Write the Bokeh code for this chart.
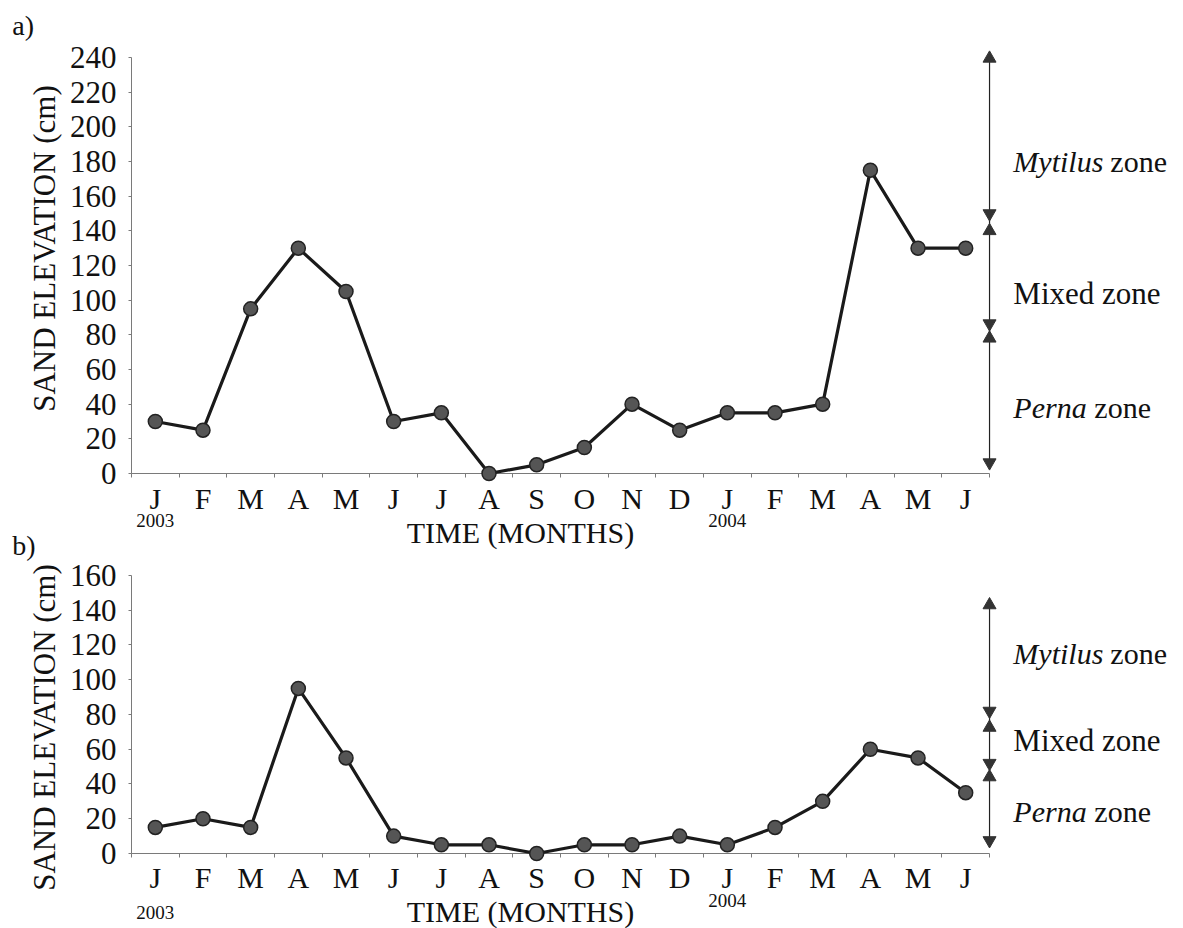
import math
from bokeh.plotting import figure
from bokeh.models import Range1d, FixedTicker, Label, LinearAxis
from bokeh.core.properties import value
from bokeh.embed import file_html
from bokeh.resources import INLINE

# ---------------- data ----------------
months = ["J", "F", "M", "A", "M", "J", "J", "A", "S", "O", "N", "D",
          "J", "F", "M", "A", "M", "J"]
month_idx = list(range(len(months)))
years = ["2003", "2004"]
year_idx = [0, 12]

elev_a = [30, 25, 95, 130, 105, 30, 35, 0, 5, 15, 40, 25, 35, 35, 40, 175, 130, 130]
elev_b = [15, 20, 15, 95, 55, 10, 5, 5, 0, 5, 5, 10, 5, 15, 30, 60, 55, 35]

# zone arrows: up-pointing heads and down-pointing heads (cm)
zone_up_a = [239.5, 140, 78]
zone_down_a = [150, 86.5, 6.3]
zone_up_b = [143, 72.5, 44]
zone_down_b = [82, 52, 7.5]

zone_names = ["Mytilus", "Mixed zone", "Perna"]
zone_y_a = [180, 104, 38]
zone_y_b = [115, 65, 24]

yticks_a = list(range(0, 241, 20))
yticks_b = list(range(0, 161, 20))

FONT = "Liberation Serif"
INK = "#111111"
AXIS = "#7a7a7a"

# one canvas holding both panels; panel b uses its own y range
p = figure(width=1183, height=928, output_backend="svg", toolbar_location=None,
           x_range=Range1d(-3.248, 21.569), y_range=Range1d(-262.5, 272.9),
           min_border=0)
p.extra_y_ranges = {"b": Range1d(-43.17, 490.9)}
p.outline_line_color = None
p.grid.visible = False
p.background_fill_color = "white"
p.border_fill_color = "white"

xa_a = p.xaxis[0]
ya_a = p.yaxis[0]
xa_b = LinearAxis(y_range_name="b")
ya_b = LinearAxis(y_range_name="b")
p.add_layout(xa_b, "below")
p.add_layout(ya_b, "left")

for xa in (xa_a, xa_b):
    xa.fixed_location = 0
    xa.level = "underlay"
    xa.ticker = FixedTicker(ticks=month_idx,
                            minor_ticks=[i - 0.5 for i in range(len(months) + 1)])
    xa.major_label_overrides = {i: m for i, m in zip(month_idx, months)}
    xa.bounds = (-0.5, len(months) - 0.5)
    xa.major_tick_in = 0
    xa.major_tick_out = 0
    xa.minor_tick_in = 0
    xa.minor_tick_out = 4
    xa.axis_line_color = AXIS
    xa.minor_tick_line_color = AXIS
    xa.major_label_text_font = FONT
    xa.major_label_text_font_size = "30px"
    xa.major_label_text_color = INK
    xa.major_label_standoff = 4

for ya, ticks in ((ya_a, yticks_a), (ya_b, yticks_b)):
    ya.fixed_location = -0.5
    ya.level = "underlay"
    ya.ticker = FixedTicker(ticks=ticks, minor_ticks=[])
    ya.bounds = (0, ticks[-1])
    ya.major_tick_in = 0
    ya.major_tick_out = 3
    ya.axis_line_color = AXIS
    ya.major_tick_line_color = AXIS
    ya.major_label_text_font = FONT
    ya.major_label_text_font_size = "31px"
    ya.major_label_text_color = INK
    ya.major_label_standoff = 12


def draw_panel(elev, up, down, zone_y, rng, tag, tag_y, year_y, time_y, ylab_y):
    kw = {} if rng is None else {"y_range_name": rng}
    p.line(month_idx, elev, line_width=3.2, line_color="#1a1a1a", **kw)
    p.scatter(month_idx, elev, size=14, fill_color="#555555",
              line_color="#222222", line_width=1.5, **kw)

    xe = len(months) - 0.5
    p.segment(x0=[xe], y0=[min(down)], x1=[xe], y1=[max(up)],
              line_color="#222222", line_width=1.2, **kw)
    p.scatter([xe] * len(up), up, marker="triangle", size=13,
              fill_color="#333333", line_color="#333333", **kw)
    p.scatter([xe] * len(down), down, marker="inverted_triangle", size=13,
              fill_color="#333333", line_color="#333333", **kw)

    xt = 18.0
    p.text(x=[xt, xt], y=[zone_y[0], zone_y[2]], text=[zone_names[0], zone_names[2]],
           text_font=value(FONT), text_font_style="italic",
           text_font_size="30px", text_baseline="middle", text_align="left",
           text_color=INK, **kw)
    p.text(x=[xt, xt], y=[zone_y[0], zone_y[2]], text=["zone", "zone"],
           x_offset=[97, 81],
           text_font=value(FONT), text_font_size="30px",
           text_baseline="middle", text_align="left", text_color=INK, **kw)
    p.text(x=[xt], y=[zone_y[1]], text=[zone_names[1]],
           text_font=value(FONT), text_font_size="31px",
           text_baseline="middle", text_align="left", text_color=INK, **kw)

    lkw = {} if rng is None else {"y_range_name": rng}
    for yr, xi, yy in zip(years, year_idx, year_y):
        p.add_layout(Label(x=xi, y=yy, text=yr, text_font=FONT,
                           text_font_size="19px", text_align="center",
                           text_baseline="middle", text_color=INK, **lkw))
    p.add_layout(Label(x=7.66, y=time_y, text="TIME (MONTHS)", text_font=FONT,
                       text_font_size="30px", text_align="center",
                       text_baseline="middle", text_color=INK, **lkw))
    p.add_layout(Label(x=-3.0, y=tag_y, text=tag, text_font=FONT,
                       text_font_size="28px", text_align="left",
                       text_baseline="middle", text_color=INK, **lkw))
    p.add_layout(Label(x=-2.33, y=ylab_y, text="SAND ELEVATION (cm)",
                       angle=math.pi / 2, text_font=FONT,
                       text_font_size="31px", text_align="center",
                       text_baseline="middle", text_color=INK, **lkw))


draw_panel(elev_a, zone_up_a, zone_down_a, zone_y_a, None, "a)", 258.5,
           [-27.1, -27.1], -34.0, 129.8)
draw_panel(elev_b, zone_up_b, zone_down_b, zone_y_b, "b", "b)", 177.3,
           [-34.0, -27.0], -33.4, 72.5)

open("out.html", "w").write(file_html(p, INLINE))
